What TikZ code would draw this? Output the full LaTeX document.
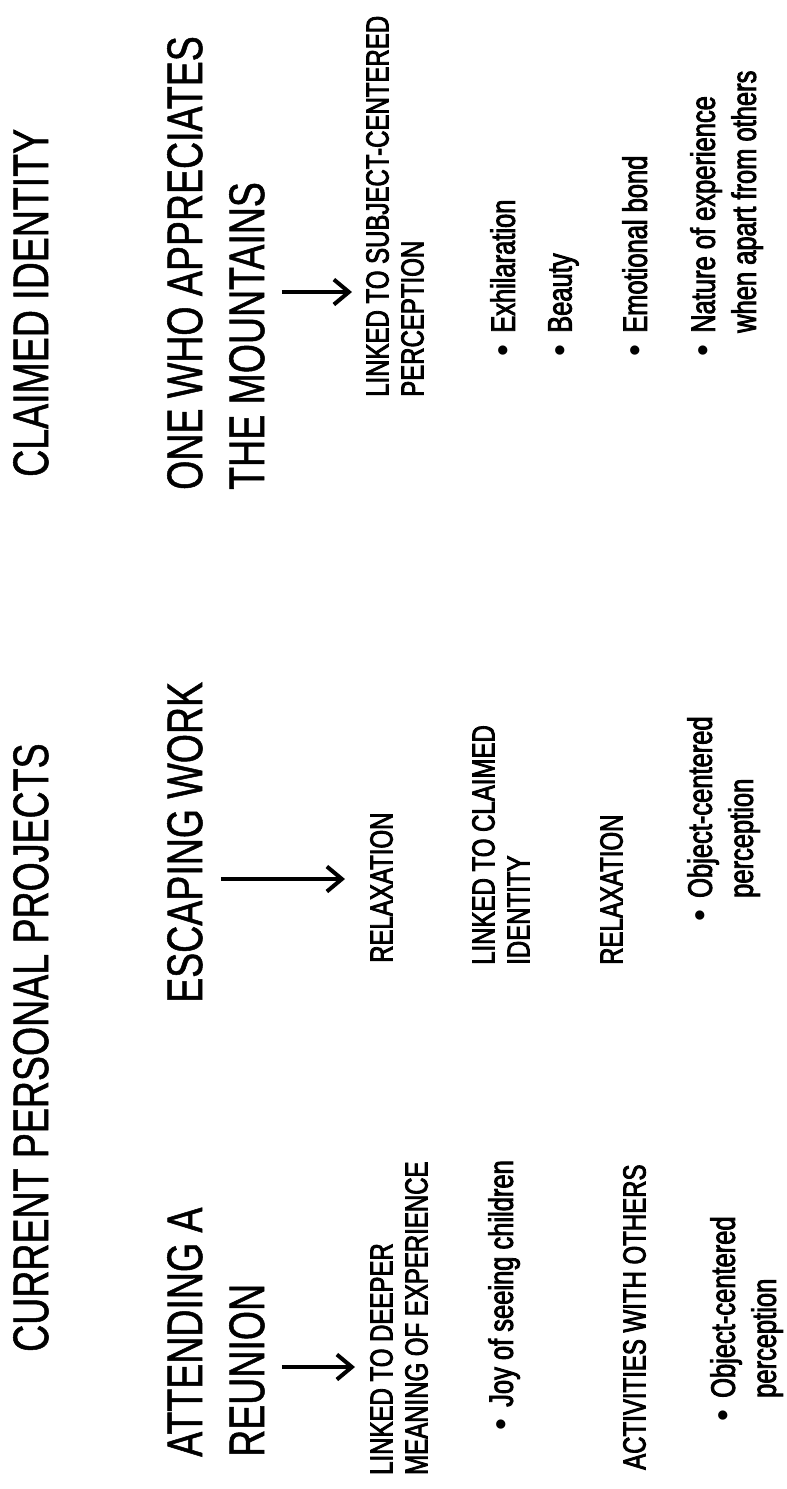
\documentclass[tikz,border=0pt]{standalone}
\usepackage{fontspec}
\usepackage{tikz}
\usetikzlibrary{arrows.meta}
\newfontfamily\headfont[FakeStretch=0.75,FakeBold=1]{Liberation Sans}
\newfontfamily\notefont[FakeStretch=0.75,FakeBold=2.5]{Liberation Sans}
\newfontfamily\dotfont{Liberation Sans}
\newcommand{\dotitem}{\llap{{\dotfont\textbullet}\hspace{12pt}}}
\tikzset{
    txt/.style={
        rotate=90,
        anchor=north west,
        inner sep=0pt,
        align=left
    },
    headtxt/.style={txt, font=\headfont\fontsize{50}{62}\selectfont},
    notetxt/.style={txt, font=\notefont\fontsize{32}{35}\selectfont},
    pointtxt/.style={txt, font=\notefont\fontsize{34}{41}\selectfont},
    link/.style={
        draw,
        -{Straight Barb[length=15pt, width=25pt]},
        line width=4pt
    }
}

\begin{document}
\begin{tikzpicture}[x=1pt, y=-1pt]
    \useasboundingbox (0,0) rectangle (787,1489);

    \node[headtxt] (claim) at (13,477) {CLAIMED IDENTITY};
    \node[headtxt] (proj) at (13,1352) {CURRENT PERSONAL PROJECTS};

    \node[headtxt] (mtn) at (167,490) {ONE WHO APPRECIATES\\THE MOUNTAINS};
    \node[headtxt] (esc) at (167,1003) {ESCAPING WORK};
    \node[headtxt] (reun) at (167,1457) {ATTENDING A\\REUNION};

    \node[notetxt] (subj) at (366,397) {LINKED TO SUBJECT-CENTERED\\PERCEPTION};
    \node[pointtxt] (exh) at (490,333) {\dotitem Exhilaration};
    \node[pointtxt] (beau) at (548,333) {\dotitem Beauty};
    \node[pointtxt] (bond) at (622,333) {\dotitem Emotional bond};
    \node[pointtxt] (apart) at (690,333) {\dotitem Nature of experience\\when apart from others};

    \node[notetxt] (relax) at (370,963) {RELAXATION};
    \node[notetxt] (ident) at (472,965) {LINKED TO CLAIMED\\IDENTITY};
    \node[notetxt] (relaxb) at (600,965) {RELAXATION};
    \node[pointtxt] (objm) at (687,898) {\dotitem Object-centered\\perception};

    \node[notetxt] (deep) at (370,1475) {LINKED TO DEEPER\\MEANING OF EXPERIENCE};
    \node[pointtxt] (joy) at (488,1407) {\dotitem Joy of seeing children};
    \node[notetxt] (act) at (623,1470) {ACTIVITIES WITH OTHERS};
    \node[pointtxt] (objl) at (710,1398) {\dotitem Object-centered\\perception};

    \coordinate (rowR) at (0,292);
    \coordinate (rowM) at (0,879);
    \coordinate (rowL) at (0,1367);

    \draw[link, shorten <=17pt, shorten >=14pt] (mtn.south |- rowR) -- (subj.north |- rowR);
    \draw[link, shorten <=18pt, shorten >=25pt] (esc.south |- rowM) -- (relax.north |- rowM);
    \draw[link, shorten <=17pt, shorten >=15pt] (reun.south |- rowL) -- (deep.north |- rowL);
\end{tikzpicture}
\end{document}
